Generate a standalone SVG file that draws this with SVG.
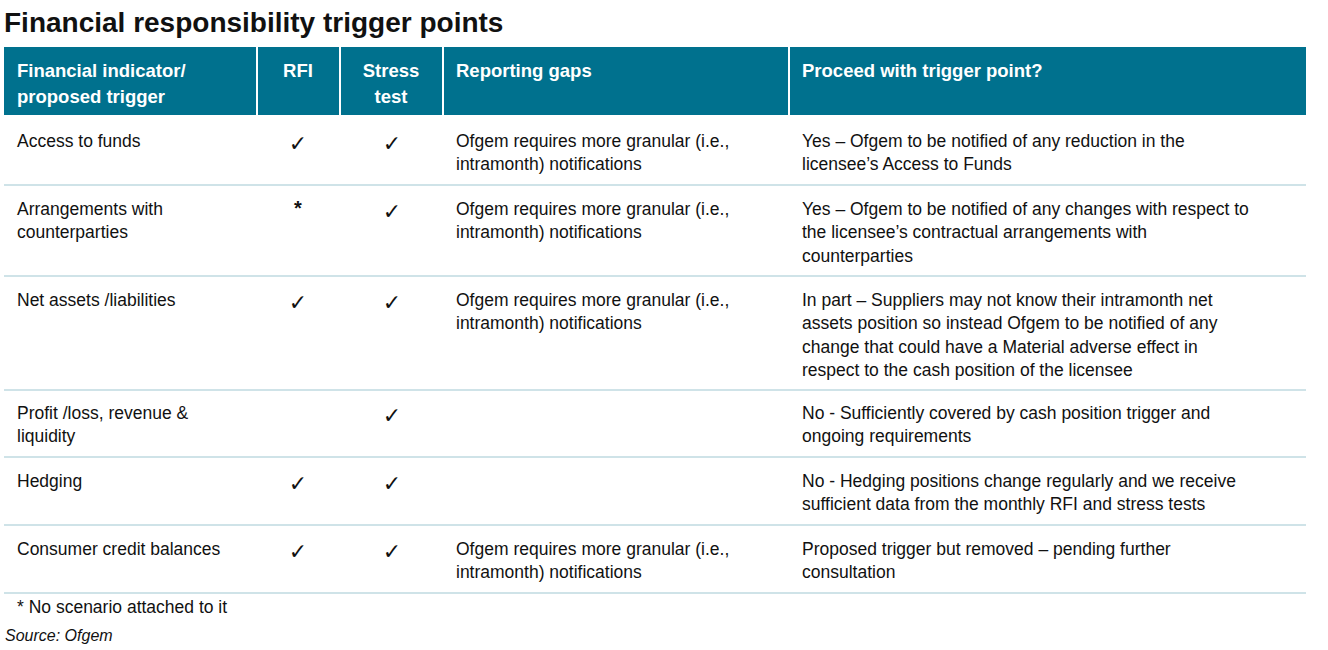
<svg xmlns="http://www.w3.org/2000/svg" width="1328" height="650" viewBox="0 0 1328 650">
<style>
text{font-family:"Liberation Sans",Arial,sans-serif;font-size:17.5px;fill:#111}
.h{font-weight:bold;fill:#fff;font-size:18.5px}
.t{font-weight:bold;font-size:28px}
.c{font-family:"DejaVu Sans",sans-serif;font-size:22px;text-anchor:middle}
.m{text-anchor:middle}
.ln{stroke:#cfe3e8;stroke-width:2}
</style>
<rect width="1328" height="650" fill="#fff"/>
<text class="t" x="4" y="32">Financial responsibility trigger points</text>
<g id="header">
<rect x="4" y="47" width="1302" height="68" fill="#00718e"/>
<g stroke="#fff" stroke-width="2"><line x1="257" y1="47" x2="257" y2="115"/><line x1="340" y1="47" x2="340" y2="115"/><line x1="443" y1="47" x2="443" y2="115"/><line x1="789" y1="47" x2="789" y2="115"/></g>
<text class="h" x="17" y="77">Financial indicator/</text><text class="h" x="17" y="103">proposed trigger</text>
<text class="h m" x="298" y="77">RFI</text>
<text class="h m" x="391" y="77">Stress</text><text class="h m" x="391" y="103">test</text>
<text class="h" x="456" y="77">Reporting gaps</text>
<text class="h" x="802" y="77">Proceed with trigger point?</text>
</g>
<g id="lines">
<line class="ln" x1="4" y1="185" x2="1306" y2="185"/><line class="ln" x1="4" y1="276" x2="1306" y2="276"/><line class="ln" x1="4" y1="390" x2="1306" y2="390"/><line class="ln" x1="4" y1="457" x2="1306" y2="457"/><line class="ln" x1="4" y1="525" x2="1306" y2="525"/><line class="ln" x1="4" y1="593" x2="1306" y2="593"/>
</g>
<g id="row1">
<text x="17" y="147">Access to funds</text><text class="c" x="298" y="151">✓</text><text class="c" x="392" y="151">✓</text>
<text x="456" y="147">Ofgem requires more granular (i.e.,</text><text x="456" y="170">intramonth) notifications</text>
<text x="802" y="147">Yes – Ofgem to be notified of any reduction in the</text><text x="802" y="170">licensee’s Access to Funds</text>
</g>
<g id="row2">
<text x="17" y="215">Arrangements with</text><text x="17" y="238">counterparties</text><text class="m" x="298" y="215" style="font-size:20px;font-weight:bold">*</text><text class="c" x="392" y="219">✓</text>
<text x="456" y="215">Ofgem requires more granular (i.e.,</text><text x="456" y="238">intramonth) notifications</text>
<text x="802" y="215">Yes – Ofgem to be notified of any changes with respect to</text><text x="802" y="238">the licensee’s contractual arrangements with</text><text x="802" y="262">counterparties</text>
</g>
<g id="row3">
<text x="17" y="306">Net assets /liabilities</text><text class="c" x="298" y="310">✓</text><text class="c" x="392" y="310">✓</text>
<text x="456" y="306">Ofgem requires more granular (i.e.,</text><text x="456" y="329">intramonth) notifications</text>
<text x="802" y="306">In part – Suppliers may not know their intramonth net</text><text x="802" y="329">assets position so instead Ofgem to be notified of any</text><text x="802" y="353">change that could have a Material adverse effect in</text><text x="802" y="376">respect to the cash position of the licensee</text>
</g>
<g id="row4">
<text x="17" y="419">Profit /loss, revenue &amp;</text><text x="17" y="442">liquidity</text><text class="c" x="392" y="423">✓</text>
<text x="802" y="419">No - Sufficiently covered by cash position trigger and</text><text x="802" y="442">ongoing requirements</text>
</g>
<g id="row5">
<text x="17" y="487">Hedging</text><text class="c" x="298" y="491">✓</text><text class="c" x="392" y="491">✓</text>
<text x="802" y="487">No - Hedging positions change regularly and we receive</text><text x="802" y="510">sufficient data from the monthly RFI and stress tests</text>
</g>
<g id="row6">
<text x="17" y="555">Consumer credit balances</text><text class="c" x="298" y="559">✓</text><text class="c" x="392" y="559">✓</text>
<text x="456" y="555">Ofgem requires more granular (i.e.,</text><text x="456" y="578">intramonth) notifications</text>
<text x="802" y="555">Proposed trigger but removed – pending further</text><text x="802" y="578">consultation</text>
</g>
<text x="17" y="613">* No scenario attached to it</text>
<text x="5" y="641" style="font-style:italic;font-size:16px">Source: Ofgem</text>
</svg>
